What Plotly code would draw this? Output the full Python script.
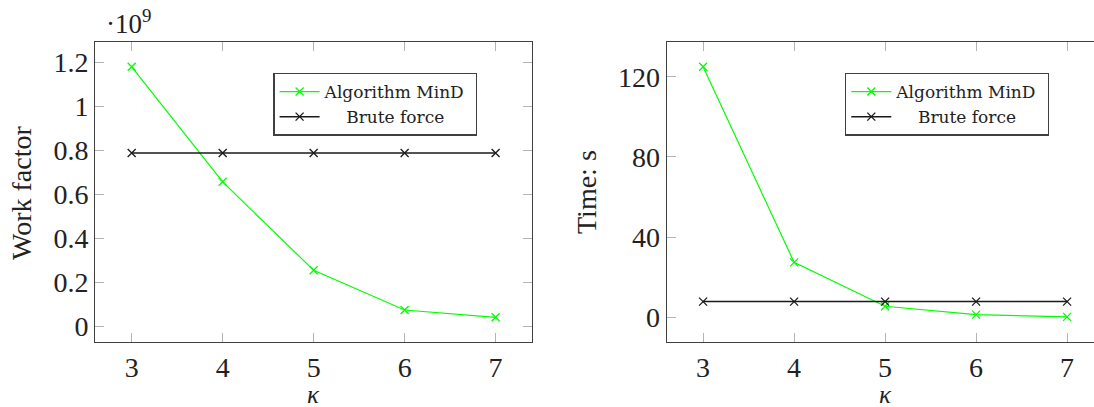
import plotly.graph_objects as go

kappa = [3, 4, 5, 6, 7]
work_mind = [1.18e9, 0.657e9, 0.2545e9, 0.074e9, 0.041e9]
work_brute = [0.788e9, 0.788e9, 0.788e9, 0.788e9, 0.788e9]
time_mind = [125.0, 27.4, 5.5, 1.3, 0.2]
time_brute = [7.8, 7.8, 7.8, 7.8, 7.8]
work_ticks = [0, 0.2e9, 0.4e9, 0.6e9, 0.8e9, 1.0e9, 1.2e9]
work_ticktext = ["0", "0.2", "0.4", "0.6", "0.8", "1", "1.2"]
time_ticks = [0, 40, 80, 120]

GREEN = "#00ff00"
BLACK = "#1a1a1a"
FRAME = "#404040"
TICK = "#b4b4b4"
FONT = "Liberation Serif"
LFONT = "DejaVu Serif"

fig = go.Figure()

def add_series(x, y, name, color, xa, ya, legend, lw):
    fig.add_trace(go.Scatter(
        x=x, y=y, name=name, mode="lines+markers", xaxis=xa, yaxis=ya,
        legend=legend,
        line=dict(color=color, width=lw),
        marker=dict(symbol="x-thin", size=8, color=color, line=dict(width=1.3, color=color)),
    ))

add_series(kappa, work_mind, "Algorithm MinD\u00a0", GREEN, "x", "y", "legend", 1.2)
add_series(kappa, work_brute, "\u00a0\u00a0\u00a0\u00a0Brute force", BLACK, "x", "y", "legend", 1.5)
add_series(kappa, time_mind, "Algorithm MinD\u00a0", GREEN, "x2", "y2", "legend2", 1.2)
add_series(kappa, time_brute, "\u00a0\u00a0\u00a0\u00a0Brute force", BLACK, "x2", "y2", "legend2", 1.5)

W, H = 1094, 407
ytop = 1 - 41.7 / H
ybot = 1 - 342.3 / H

axis_common = dict(
    showgrid=False, zeroline=False, showline=True, linecolor=FRAME, linewidth=1.3,
    ticks="inside", ticklen=9, tickwidth=1.2, tickcolor=TICK,
    tickfont=dict(family=FONT, size=28, color="#222222"),
)

legend_common = dict(
    bgcolor="white", bordercolor=FRAME, borderwidth=1.3,
    font=dict(family=LFONT, size=17, color="#222222"),
    xanchor="left", yanchor="top", tracegroupgap=0, itemwidth=40,
)

fig.update_layout(
    width=W, height=H,
    margin=dict(l=0, r=0, t=0, b=0),
    font=dict(family=FONT, color="#222222"),
    paper_bgcolor="white", plot_bgcolor="white",
    xaxis=dict(domain=[95.3 / W, 532 / W], range=[2.6, 7.4], tickvals=kappa,
               anchor="y", mirror="ticks", **axis_common),
    yaxis=dict(domain=[ybot, ytop], range=[-0.0727e9, 1.294e9], tickvals=work_ticks,
               ticktext=work_ticktext, anchor="x", mirror="ticks", **axis_common),
    xaxis2=dict(domain=[666.7 / W, 1.0], range=[2.6, 2.6 + (W - 666.7) / 91.0], tickvals=kappa,
                anchor="y2", mirror="ticks", **axis_common),
    yaxis2=dict(domain=[ybot, ytop], range=[-12.5, 137.5], tickvals=time_ticks,
                anchor="x2", mirror=False, **axis_common),
    legend=dict(x=273.3 / W, y=1 - 72.7 / H, **legend_common),
    legend2=dict(x=845 / W, y=1 - 72.7 / H, **legend_common),
    showlegend=True,
)

ann_font = dict(family=FONT, size=28, color="#222222")
def ann(text, x, y, angle=0, xanchor="center", font=ann_font):
    fig.add_annotation(text=text, x=x / W, y=1 - y / H, xref="paper", yref="paper",
                       textangle=angle, showarrow=False, font=font,
                       xanchor=xanchor, yanchor="middle")

ann("Work factor", 21, 193, angle=-90)
ann("Time: s", 586, 192, angle=-90)
kfont = dict(family=FONT, size=25, color="#222222")
ann("<i>κ</i>", 313.7, 394, font=kfont)
ann("<i>κ</i>", 885.3, 394, font=kfont)
ann("·10<sup>9</sup>", 104, 22, xanchor="left", font=dict(family=FONT, size=27, color="#222222"))

fig.write_html("out.html")
